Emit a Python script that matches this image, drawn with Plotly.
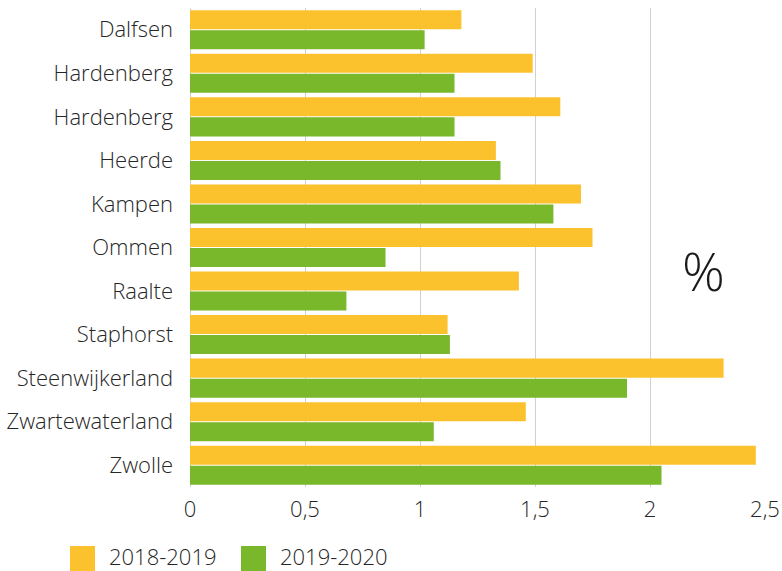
import plotly.graph_objects as go

categories = ["Dalfsen", "Hardenberg", "Hardenberg", "Heerde", "Kampen", "Ommen",
              "Raalte", "Staphorst", "Steenwijkerland", "Zwartewaterland", "Zwolle"]
values_2018_2019 = [1.18, 1.49, 1.61, 1.33, 1.70, 1.75, 1.43, 1.12, 2.32, 1.46, 2.46]
values_2019_2020 = [1.02, 1.15, 1.15, 1.35, 1.58, 0.85, 0.68, 1.13, 1.90, 1.06, 2.05]
series_names = ["2018-2019", "2019-2020"]
x_tickvals = [0, 0.5, 1, 1.5, 2, 2.5]
x_ticktext = ["0", "0,5", "1", "1,5", "2", "2,5"]

YELLOW = "#FCC22E"
GREEN = "#79B82A"
FONT = "Open Sans"
TEXT = "#262626"
FS = 22

positions = list(range(len(categories)))

fig = go.Figure()
for name, vals, col in [(series_names[0], values_2018_2019, YELLOW),
                        (series_names[1], values_2019_2020, GREEN)]:
    fig.add_trace(go.Bar(
        y=positions, x=vals, name=name, orientation="h",
        marker=dict(color=col, line=dict(width=0)),
        showlegend=False,
    ))

W, H = 782, 571
L, R, T, B = 190, 17, 8, 84
pw, ph = W - L - R, H - T - B

def px(x):
    return (x - L) / pw

def py(y):
    return (H - B - y) / ph

shapes = []
annotations = []
for (x0, label, col) in [(70, series_names[0], YELLOW), (241, series_names[1], GREEN)]:
    shapes.append(dict(type="rect", xref="paper", yref="paper",
                       x0=px(x0), x1=px(x0 + 25), y0=py(571), y1=py(546),
                       fillcolor=col, line=dict(width=0)))
    annotations.append(dict(text=label, xref="paper", yref="paper",
                            x=px(x0 + 37), y=py(556), xanchor="left", yanchor="middle",
                            showarrow=False,
                            font=dict(family=FONT, size=FS, color=TEXT, weight=300)))

annotations.append(dict(text="%", xref="paper", yref="paper", x=px(703), y=py(270),
                        xanchor="center", yanchor="middle", showarrow=False,
                        font=dict(family=FONT, size=53, color="#1a1a1a", weight=300)))

fig.update_layout(
    width=W, height=H,
    margin=dict(l=L, r=R, t=T, b=B, pad=0, autoexpand=False),
    paper_bgcolor="white", plot_bgcolor="white",
    barmode="group", bargap=0.08, bargroupgap=0.05,
    font=dict(family=FONT, size=FS, color=TEXT),
    shapes=shapes, annotations=annotations,
    xaxis=dict(range=[0, 2.5], tickvals=x_tickvals, ticktext=x_ticktext,
               automargin=False,
               showgrid=True, gridcolor="#D0D0D0", gridwidth=1,
               zeroline=True, zerolinecolor="#D0D0D0", zerolinewidth=1,
               showline=False, ticks="", ticklen=0, ticklabelstandoff=7,
               tickfont=dict(family=FONT, size=FS, color=TEXT, weight=300)),
    yaxis=dict(range=[len(categories) - 0.5, -0.5], tickvals=positions, ticktext=categories,
               automargin=False,
               showgrid=False, zeroline=False, showline=False, ticks="",
               ticklabelstandoff=16,
               tickfont=dict(family=FONT, size=FS, color=TEXT, weight=300)),
)

fig.write_html("out.html",
               config={"displayModeBar": False},
               post_script="document.body.style.margin='0';document.body.style.overflow='hidden';")
